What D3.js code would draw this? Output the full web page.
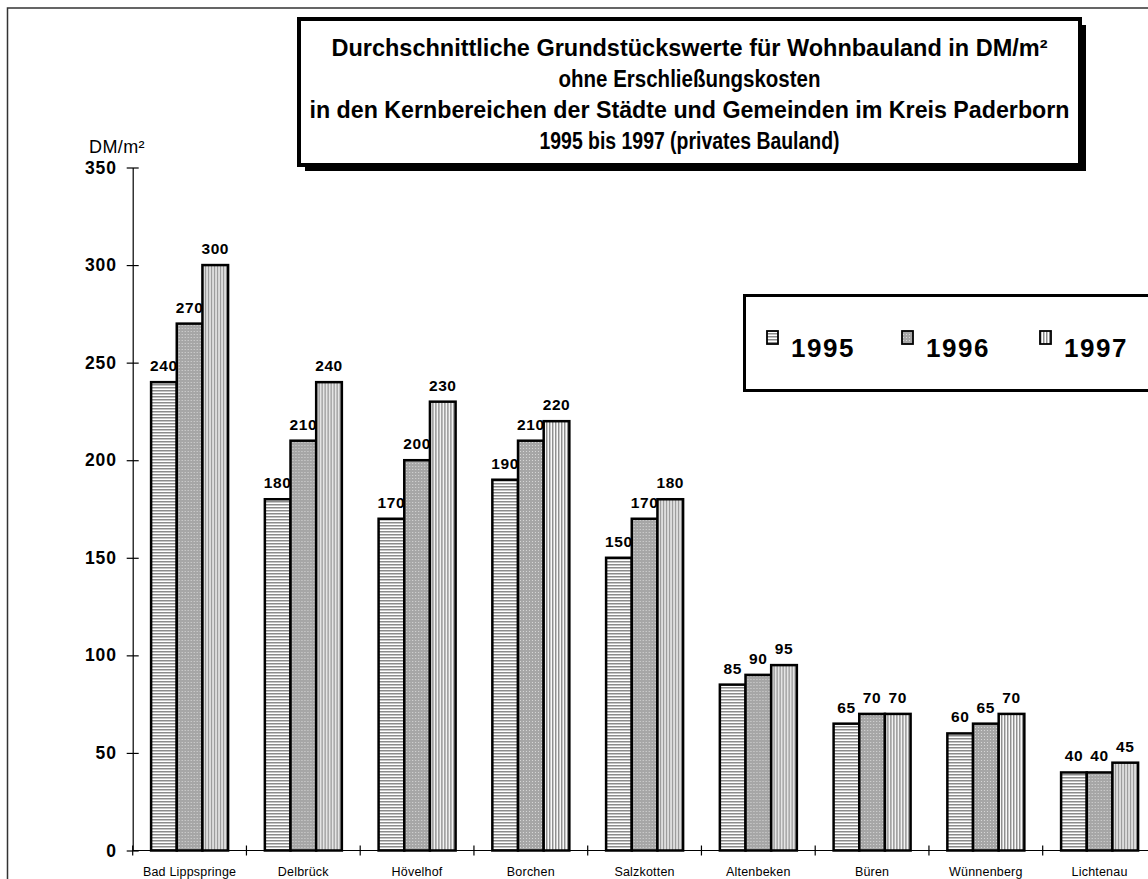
<!DOCTYPE html>
<html>
<head>
<meta charset="utf-8">
<script src="https://cdn.jsdelivr.net/npm/d3@7"></script>
<style>
  html, body { margin: 0; padding: 0; background: #fff; }
  svg { display: block; font-family: "Liberation Sans", Arial, sans-serif; }
</style>
</head>
<body>
<svg id="chart" width="1148" height="879"></svg>
<script>
const categories = ["Bad Lippspringe", "Delbrück", "Hövelhof", "Borchen", "Salzkotten", "Altenbeken", "Büren", "Wünnenberg", "Lichtenau"];
const seriesNames = ["1995", "1996", "1997"];
const values1995 = [240, 180, 170, 190, 150, 85, 65, 60, 40];
const values1996 = [270, 210, 200, 210, 170, 90, 70, 65, 40];
const values1997 = [300, 240, 230, 220, 180, 95, 70, 70, 45];
const yTicks = [0, 50, 100, 150, 200, 250, 300, 350];
const titleLines = [
  "Durchschnittliche Grundstückswerte für Wohnbauland in DM/m²",
  "ohne Erschließungskosten",
  "in den Kernbereichen der Städte und Gemeinden im Kreis  Paderborn",
  "1995 bis 1997 (privates Bauland)"
];
const yAxisTitle = "DM/m²";

const seriesValues = [values1995, values1996, values1997];
const svg = d3.select("#chart");

// patterns
const defs = svg.append("defs");
const pH = defs.append("pattern").attr("id", "p1995").attr("patternUnits", "userSpaceOnUse")
  .attr("width", 4).attr("height", 3);
pH.append("rect").attr("width", 4).attr("height", 3).attr("fill", "#ffffff");
pH.append("rect").attr("y", 0).attr("width", 4).attr("height", 1.5).attr("fill", "#8c8c8c");

const pD = defs.append("pattern").attr("id", "p1996").attr("patternUnits", "userSpaceOnUse")
  .attr("width", 3).attr("height", 3);
pD.append("rect").attr("width", 3).attr("height", 3).attr("fill", "#a6a6a6");
pD.append("rect").attr("x", 1).attr("y", 1).attr("width", 1).attr("height", 1).attr("fill", "#d8d8d8");

const pV = defs.append("pattern").attr("id", "p1997").attr("patternUnits", "userSpaceOnUse")
  .attr("width", 3).attr("height", 4);
pV.append("rect").attr("width", 3).attr("height", 4).attr("fill", "#ffffff");
pV.append("rect").attr("x", 0).attr("width", 1.5).attr("height", 4).attr("fill", "#8c8c8c");

const fills = ["url(#p1995)", "url(#p1996)", "url(#p1997)"];

// outer frame
svg.append("rect").attr("x", 7.5).attr("y", 8).attr("width", 1200).attr("height", 1000)
  .attr("fill", "none").attr("stroke", "#333").attr("stroke-width", 1.5);

// scales
const x0 = d3.scaleBand().domain(categories).range([132.7, 132.7 + 9 * 113.75]).paddingInner(0).paddingOuter(0);
const x1 = d3.scaleBand().domain(seriesNames).range([18.4, 18.4 + 77]).padding(0);
const y = d3.scaleLinear().domain([0, 350]).range([850.5, 167.5]);

// bars
const groups = svg.append("g").selectAll("g").data(categories).join("g")
  .attr("transform", d => `translate(${x0(d)},0)`);

groups.selectAll("rect").data((d, i) => seriesNames.map((s, j) => ({ s, v: seriesValues[j][i], j })))
  .join("rect")
  .attr("x", d => x1(d.s))
  .attr("y", d => y(d.v))
  .attr("width", x1.bandwidth())
  .attr("height", d => y(0) - y(d.v))
  .attr("fill", d => fills[d.j])
  .attr("stroke", "#000")
  .attr("stroke-width", 2.5);

groups.selectAll("text").data((d, i) => seriesNames.map((s, j) => ({ s, v: seriesValues[j][i], j })))
  .join("text")
  .attr("x", d => x1(d.s) + x1.bandwidth() / 2)
  .attr("y", d => y(d.v) - 11)
  .attr("text-anchor", "middle")
  .attr("font-size", 15.5)
  .attr("font-weight", "bold")
  .attr("letter-spacing", 0.6)
  .text(d => d.v);

// y axis
const yAxis = svg.append("g").attr("transform", "translate(132.7,0)")
  .call(d3.axisLeft(y).tickValues(yTicks).tickSize(0).tickPadding(16));
yAxis.select(".domain").attr("stroke", "#000").attr("stroke-width", 1.2);
yAxis.selectAll(".tick text").attr("font-size", 17.5).attr("font-weight", "bold")
  .attr("fill", "#000").attr("letter-spacing", 0.8).attr("font-family", "Liberation Sans, Arial, sans-serif");
yAxis.selectAll(".tick").append("line").attr("x1", -6).attr("x2", 6).attr("stroke", "#000").attr("stroke-width", 1.2);

// x axis
const xAxisG = svg.append("g");
xAxisG.append("line").attr("x1", 132.7).attr("x2", 1160).attr("y1", y(0)).attr("y2", y(0))
  .attr("stroke", "#000").attr("stroke-width", 1.2);
xAxisG.selectAll("line.tk").data(categories).join("line").attr("class", "tk")
  .attr("x1", d => x0(d)).attr("x2", d => x0(d))
  .attr("y1", y(0) - 5).attr("y2", y(0) + 5)
  .attr("stroke", "#000").attr("stroke-width", 1.2);
xAxisG.selectAll("text").data(categories).join("text")
  .attr("x", d => x0(d) + x0.bandwidth() / 2)
  .attr("y", 876)
  .attr("text-anchor", "middle")
  .attr("font-size", 12.5)
  .attr("letter-spacing", 0.2)
  .text(d => d);

// y axis title
svg.append("text").attr("x", 89).attr("y", 153).attr("font-size", 18).attr("letter-spacing", 0.4).text(yAxisTitle);

// title box
const tb = { x: 299, y: 19, w: 781, h: 146 };
svg.append("rect").attr("x", tb.x + 6).attr("y", tb.y + 6).attr("width", tb.w).attr("height", tb.h).attr("fill", "#000");
svg.append("rect").attr("x", tb.x).attr("y", tb.y).attr("width", tb.w).attr("height", tb.h)
  .attr("fill", "#fff").attr("stroke", "#000").attr("stroke-width", 4);
const titleWidths = [716, 262, 760, 300];
svg.append("g").selectAll("text").data(titleLines).join("text")
  .attr("x", tb.x + tb.w / 2)
  .attr("y", (d, i) => 56 + i * 31)
  .attr("text-anchor", "middle")
  .attr("font-size", 23)
  .attr("font-weight", "bold")
  .attr("textLength", (d, i) => titleWidths[i])
  .attr("lengthAdjust", "spacingAndGlyphs")
  .text(d => d);

// legend
svg.append("rect").attr("x", 744.5).attr("y", 295.5).attr("width", 500).attr("height", 95)
  .attr("fill", "#fff").attr("stroke", "#000").attr("stroke-width", 3);
const legX = [767, 902, 1040];
const leg = svg.append("g").selectAll("g").data(seriesNames).join("g")
  .attr("transform", (d, i) => `translate(${legX[i]},0)`);
leg.append("rect").attr("x", 0).attr("y", 331).attr("width", 11).attr("height", 13)
  .attr("fill", (d, i) => fills[i]).attr("stroke", "#000").attr("stroke-width", 1.8);
leg.append("text").attr("x", 24).attr("y", 357).attr("font-size", 26).attr("font-weight", "bold")
  .attr("letter-spacing", 1.5).text(d => d);
</script>
</body>
</html>
